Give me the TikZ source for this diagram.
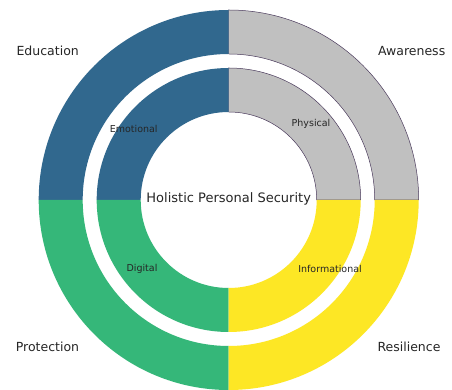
\documentclass[tikz,border=0pt]{standalone}
\usepackage{fontspec}
\setmainfont{DejaVu Sans}
\definecolor{segblue}{HTML}{31688E}
\definecolor{seggray}{HTML}{C0C0C0}
\definecolor{seggreen}{HTML}{35B779}
\definecolor{segyellow}{HTML}{FDE725}
\definecolor{edgepurple}{HTML}{4A3A5C}
\definecolor{labeltext}{HTML}{262626}
\begin{document}
\begin{tikzpicture}[x=1pt,y=1pt,
  outerlabel/.style={font=\fontsize{12.5}{14}\selectfont, text=labeltext, inner sep=0pt},
  innerlabel/.style={font=\fontsize{9.5}{11}\selectfont, text=labeltext, inner sep=0pt},
  titlelabel/.style={font=\fontsize{13}{15}\selectfont, text=labeltext, inner sep=0pt},
  rimedge/.style={draw=edgepurple, line width=0.5pt}]
\useasboundingbox (0,0) rectangle (452,390);
\fill[white] (0,0) rectangle (452,390);
% annular sectors: #1 style, #2 start angle, #3 end angle, #4 inner radius, #5 outer radius
\newcommand\ringpiece[5]{%
  \path[#1] (#2:#5) arc[start angle=#2, end angle=#3, radius=#5]
    -- (#3:#4) arc[start angle=#3, end angle=#2, radius=#4] -- cycle;}
\begin{scope}[shift={(228.7,190)}]
  % outer ring
  \ringpiece{fill=seggray, rimedge}{0}{90}{146}{190}
  \ringpiece{fill=segblue}{90}{180}{146}{190}
  \ringpiece{fill=seggreen}{180}{270}{146}{190}
  \ringpiece{fill=segyellow}{270}{360}{146}{190}
  % inner ring
  \ringpiece{fill=seggray, rimedge}{0}{90}{88}{132}
  \ringpiece{fill=segblue}{90}{180}{88}{132}
  \ringpiece{fill=seggreen}{180}{270}{88}{132}
  \ringpiece{fill=segyellow}{270}{360}{88}{132}
\end{scope}
% ring labels
\node[innerlabel] (emotional) at (133.7,261) {Emotional};
\node[innerlabel] (physical) at (311,266) {Physical};
\node[innerlabel] (digital) at (142,121) {Digital};
\node[innerlabel] (informational) at (330,121) {Informational};
% centre title
\node[titlelabel] (title) at (228.7,191) {Holistic Personal Security};
% corner labels
\node[outerlabel] (education) at (47.7,339) {Education};
\node[outerlabel] (awareness) at (411.7,339) {Awareness};
\node[outerlabel] (protection) at (47.5,43) {Protection};
\node[outerlabel] (resilience) at (409,43) {Resilience};
\end{tikzpicture}
\end{document}
